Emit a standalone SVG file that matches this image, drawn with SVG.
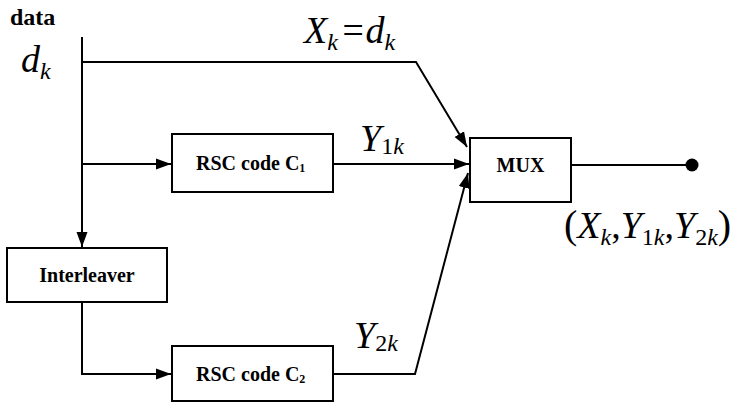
<svg xmlns="http://www.w3.org/2000/svg" width="734" height="402" viewBox="0 0 734 402" font-family="'Times New Roman', 'Liberation Serif', Times, serif">
<style>
.box{fill:#fff;stroke:#000;stroke-width:2}
.lbl{font-family:'Times New Roman','Liberation Serif',Times,serif;font-weight:bold;font-size:20px;fill:#000}
.math{font-family:'Times New Roman','Liberation Serif',Times,serif;font-style:italic;font-size:38px;fill:#000}
.sub{font-size:24px}
.up{font-style:normal}
.wire{fill:none;stroke:#000;stroke-width:2}
</style>
<defs>
<marker id="arr" markerUnits="userSpaceOnUse" markerWidth="16" markerHeight="12" refX="15" refY="6" orient="auto">
<path d="M0,0.5 L15,6 L0,11.5 z" fill="#000"/>
</marker>
</defs>
<g id="connectors">
<path class="wire" d="M82,37 V247" marker-end="url(#arr)"/>
<path class="wire" d="M82,62 H416 L467,147" marker-end="url(#arr)"/>
<path class="wire" d="M82,164 H171" marker-end="url(#arr)"/>
<path class="wire" d="M333,164 H469" marker-end="url(#arr)"/>
<path class="wire" d="M82,302 V374 H171" marker-end="url(#arr)"/>
<path class="wire" d="M333,374 H415 L468,173" marker-end="url(#arr)"/>
<path class="wire" d="M571,165 H692"/>
<circle cx="692" cy="165" r="6.5" fill="#000"/>
</g>
<g id="rsc1">
<rect class="box" x="172" y="134" width="161" height="58"/>
<text class="lbl" x="196" y="170">RSC code C<tspan font-size="12" dy="2">1</tspan></text>
</g>
<g id="mux">
<rect class="box" x="470" y="138" width="101" height="64"/>
<text class="lbl" x="520.5" y="172" text-anchor="middle">MUX</text>
</g>
<g id="interleaver">
<rect class="box" x="7" y="248" width="160" height="54"/>
<text class="lbl" x="87" y="282" text-anchor="middle">Interleaver</text>
</g>
<g id="rsc2">
<rect class="box" x="172" y="346" width="161" height="55"/>
<text class="lbl" x="196" y="381">RSC code C<tspan font-size="12" dy="2">2</tspan></text>
</g>
<g id="labels">
<text class="lbl" x="10" y="25" style="font-size:24px">data</text>
<text class="math" x="21" y="72">d<tspan class="sub" dy="7">k</tspan></text>
<text class="math" x="304" y="43">X<tspan class="sub" dy="7">k</tspan><tspan dy="-7" dx="2">=</tspan>d<tspan class="sub" dy="7">k</tspan></text>
<text class="math" x="360" y="151">Y<tspan class="sub" dy="3"><tspan class="up">1</tspan>k</tspan></text>
<text class="math" x="354" y="348">Y<tspan class="sub" dy="3"><tspan class="up">2</tspan>k</tspan></text>
<text class="math" x="564" y="238"><tspan class="up" font-size="40">(</tspan>X<tspan class="sub" dy="7">k</tspan><tspan class="up" dy="-7">,</tspan>Y<tspan class="sub" dy="7"><tspan class="up">1</tspan>k</tspan><tspan class="up" dy="-7">,</tspan>Y<tspan class="sub" dy="7"><tspan class="up">2</tspan>k</tspan><tspan class="up" font-size="40" dy="-7">)</tspan></text>
</g>
</svg>
